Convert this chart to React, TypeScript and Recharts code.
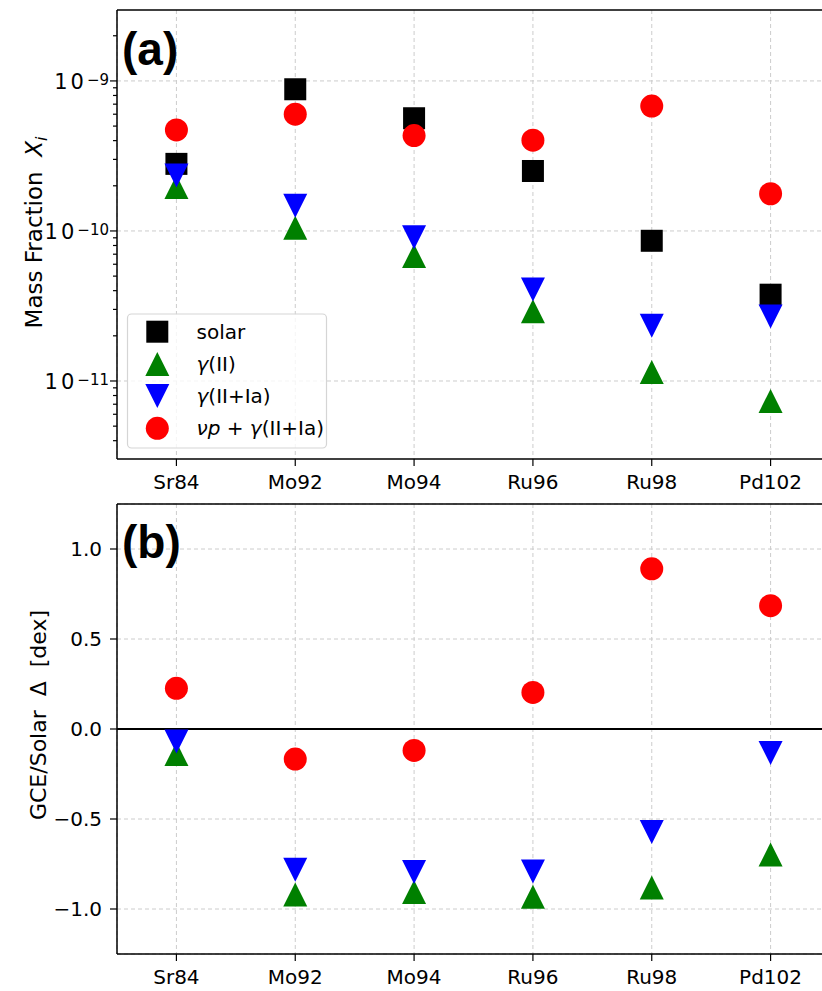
import React from 'react';
import { ScatterChart, Scatter, XAxis, YAxis, CartesianGrid, ReferenceLine } from 'recharts';

const categories = ['Sr84', 'Mo92', 'Mo94', 'Ru96', 'Ru98', 'Pd102'];

// Panel (a): mass fractions
const solar = [2.8e-10, 8.8e-10, 5.64e-10, 2.51e-10, 8.6e-11, 3.76e-11];
const gammaII = [1.96e-10, 1.05e-10, 6.8e-11, 2.92e-11, 1.15e-11, 7.36e-12];
const gammaIIIa = [2.34e-10, 1.47e-10, 9.08e-11, 4.07e-11, 2.33e-11, 2.69e-11];
const nupGamma = [4.71e-10, 6.0e-10, 4.32e-10, 4.03e-10, 6.8e-10, 1.77e-10];

// Panel (b): GCE / solar in dex
const dGammaII = [-0.139, -0.92, -0.906, -0.932, -0.88, -0.697];
const dGammaIIIa = [-0.069, -0.782, -0.794, -0.791, -0.572, -0.133];
const dNup = [0.226, -0.167, -0.119, 0.203, 0.89, 0.685];

const xTicks = [0, 1, 2, 3, 4, 5];
const xDomain = [-0.5, 5.5];
const topDomain = [3.02e-12, 2.97e-9];
const topMajor = [1e-11, 1e-10, 1e-9];
const botDomain = [-1.25, 1.25];
const botTicks = [-1, -0.5, 0, 0.5, 1];

const topTicks: number[] = [];
for (let e = -12; e <= -9; e++) {
  for (let m = 1; m <= 9; m++) {
    const v = m * Math.pow(10, e);
    if (v >= topDomain[0] && v <= topDomain[1]) topTicks.push(v);
  }
}

const FONT = "'DejaVu Sans', sans-serif";
const GRID = '#cccccc';
const NB = '\u00A0';

const pts = (vals: number[]) => vals.map((y, i) => ({ x: i, y }));

const Square = (p: any) => <rect x={p.cx - 11} y={p.cy - 11} width={22} height={22} fill="#000" />;
const TriUp = (p: any) => (
  <polygon points={`${p.cx},${p.cy - 12} ${p.cx - 12},${p.cy + 12} ${p.cx + 12},${p.cy + 12}`} fill="#008000" />
);
const TriDown = (p: any) => (
  <polygon points={`${p.cx - 12},${p.cy - 12} ${p.cx + 12},${p.cy - 12} ${p.cx},${p.cy + 12}`} fill="#0000ff" />
);
const Dot = (p: any) => <circle cx={p.cx} cy={p.cy} r={11.5} fill="#ff0000" />;

const LogTick = (props: any) => {
  const { x, y, payload } = props;
  const v = payload.value;
  const e = Math.log10(v);
  const major = Math.abs(e - Math.round(e)) < 1e-6;
  const len = major ? 7 : 4;
  return (
    <g>
      <line x1={x - len} x2={x} y1={y} y2={y} stroke="#000" strokeWidth={1.2} />
      {major && (
        <text x={x - 8} y={y} textAnchor="end" fill="#000" fontFamily={FONT}>
          <tspan fontSize={21} dy={8} letterSpacing={3}>10</tspan>
          <tspan fontSize={15} dy={-4}>{'\u2212' + Math.abs(Math.round(e))}</tspan>
        </text>
      )}
    </g>
  );
};

const xTickFmt = (v: number) => categories[v] ?? '';
const botFmt = (v: number) => (v < 0 ? '\u2212' : '') + Math.abs(v).toFixed(1);

const TopYLabel = (props: any) => {
  const vb = props.viewBox || { y: 10, height: 449 };
  const cx = 42;
  const cy = vb.y + vb.height / 2 - 2;
  return (
    <text x={cx} y={cy} transform={`rotate(-90, ${cx}, ${cy})`} textAnchor="middle" fontSize={23} fontFamily={FONT} fill="#000">
      <tspan>{`Mass${NB}Fraction${NB}${NB}`}</tspan>
      <tspan fontStyle="italic">X</tspan>
      <tspan fontStyle="italic" fontSize={16} dy={5}>i</tspan>
    </text>
  );
};

const BotYLabel = (props: any) => {
  const vb = props.viewBox || { y: 9, height: 450 };
  const cx = 46;
  const cy = vb.y + vb.height / 2 - 14;
  return (
    <text x={cx} y={cy} transform={`rotate(-90, ${cx}, ${cy})`} textAnchor="middle" fontSize={22} fontFamily={FONT} fill="#000">
      {`GCE/Solar${NB}${NB}Δ${NB}${NB}[dex]`}
    </text>
  );
};

const axisLine = { stroke: '#000', strokeWidth: 1.5 };
const tickStyle = { fill: '#000', fontSize: 20, fontFamily: FONT };

const legendItems = [
  { shape: Square, label: <tspan>solar</tspan> },
  { shape: TriUp, label: <><tspan fontStyle="italic">γ</tspan><tspan>(II)</tspan></> },
  { shape: TriDown, label: <><tspan fontStyle="italic">γ</tspan><tspan>(II+Ia)</tspan></> },
  {
    shape: Dot,
    label: (
      <>
        <tspan fontStyle="italic">νp</tspan>
        <tspan>{`${NB}+${NB}`}</tspan>
        <tspan fontStyle="italic">γ</tspan>
        <tspan>(II+Ia)</tspan>
      </>
    ),
  },
];

export default function App() {
  return (
    <div style={{ position: 'absolute', left: 0, top: 0, width: 822, height: 991, overflow: 'hidden', background: '#fff' }}>
      <div style={{ position: 'absolute', left: 0, top: 0 }}>
        <ScatterChart width={840} height={495} margin={{ top: 10, right: 10, bottom: 0, left: 0 }}>
          <CartesianGrid horizontal={false} stroke={GRID} strokeDasharray="4 3" />
          {topMajor.map((v) => (
            <ReferenceLine key={v} y={v} stroke={GRID} strokeDasharray="4 3" />
          ))}
          <ReferenceLine y={topDomain[1]} stroke="#000" strokeWidth={1.5} />
          <XAxis
            dataKey="x"
            type="number"
            domain={xDomain}
            ticks={xTicks}
            interval={0}
            tickFormatter={xTickFmt}
            height={36}
            tickSize={7}
            tickMargin={9}
            axisLine={axisLine}
            tickLine={{ stroke: '#000', strokeWidth: 1.2 }}
            tick={tickStyle}
            allowDataOverflow
          />
          <YAxis
            dataKey="y"
            type="number"
            scale="log"
            domain={topDomain}
            allowDataOverflow
            ticks={topTicks}
            interval={0}
            width={117}
            tickSize={0}
            tickMargin={0}
            tickLine={false}
            axisLine={axisLine}
            tick={LogTick}
            label={TopYLabel}
          />
          <Scatter data={pts(solar)} shape={Square} isAnimationActive={false} />
          <Scatter data={pts(gammaII)} shape={TriUp} isAnimationActive={false} />
          <Scatter data={pts(gammaIIIa)} shape={TriDown} isAnimationActive={false} />
          <Scatter data={pts(nupGamma)} shape={Dot} isAnimationActive={false} />
        </ScatterChart>
      </div>
      <div style={{ position: 'absolute', left: 0, top: 495 }}>
        <ScatterChart width={840} height={496} margin={{ top: 9, right: 10, bottom: 0, left: 0 }}>
          <CartesianGrid stroke={GRID} strokeDasharray="4 3" />
          <ReferenceLine y={0} stroke="#000" strokeWidth={2} />
          <ReferenceLine y={botDomain[1]} stroke="#000" strokeWidth={1.5} />
          <XAxis
            dataKey="x"
            type="number"
            domain={xDomain}
            ticks={xTicks}
            interval={0}
            tickFormatter={xTickFmt}
            height={37}
            tickSize={7}
            tickMargin={9}
            axisLine={axisLine}
            tickLine={{ stroke: '#000', strokeWidth: 1.2 }}
            tick={tickStyle}
            allowDataOverflow
          />
          <YAxis
            dataKey="y"
            type="number"
            domain={botDomain}
            allowDataOverflow
            ticks={botTicks}
            interval={0}
            width={117}
            tickSize={7}
            tickMargin={8}
            tickFormatter={botFmt}
            axisLine={axisLine}
            tickLine={{ stroke: '#000', strokeWidth: 1.2 }}
            tick={tickStyle}
            label={BotYLabel}
          />
          <Scatter data={pts(dGammaII)} shape={TriUp} isAnimationActive={false} />
          <Scatter data={pts(dGammaIIIa)} shape={TriDown} isAnimationActive={false} />
          <Scatter data={pts(dNup)} shape={Dot} isAnimationActive={false} />
        </ScatterChart>
      </div>
      <svg width={822} height={991} style={{ position: 'absolute', left: 0, top: 0, pointerEvents: 'none' }}>
        <text x={122} y={65} fontSize={46} fontWeight="bold" fontFamily="'Liberation Sans', Arial, sans-serif" fill="#000">(a)</text>
        <text x={122} y={558} fontSize={46} fontWeight="bold" fontFamily="'Liberation Sans', Arial, sans-serif" fill="#000">(b)</text>
        <rect x={127.5} y={314} width={199} height={134} rx={4} fill="#fff" fillOpacity={0.8} stroke="#d5d5d5" strokeWidth={1.2} />
        {legendItems.map((it, i) => {
          const cy = 331.7 + i * 32.2;
          const S = it.shape;
          return (
            <g key={i}>
              <S cx={157.3} cy={cy} />
              <text x={196.5} y={cy + 7} fontSize={20} fontFamily={FONT} fill="#000">{it.label}</text>
            </g>
          );
        })}
      </svg>
    </div>
  );
}
